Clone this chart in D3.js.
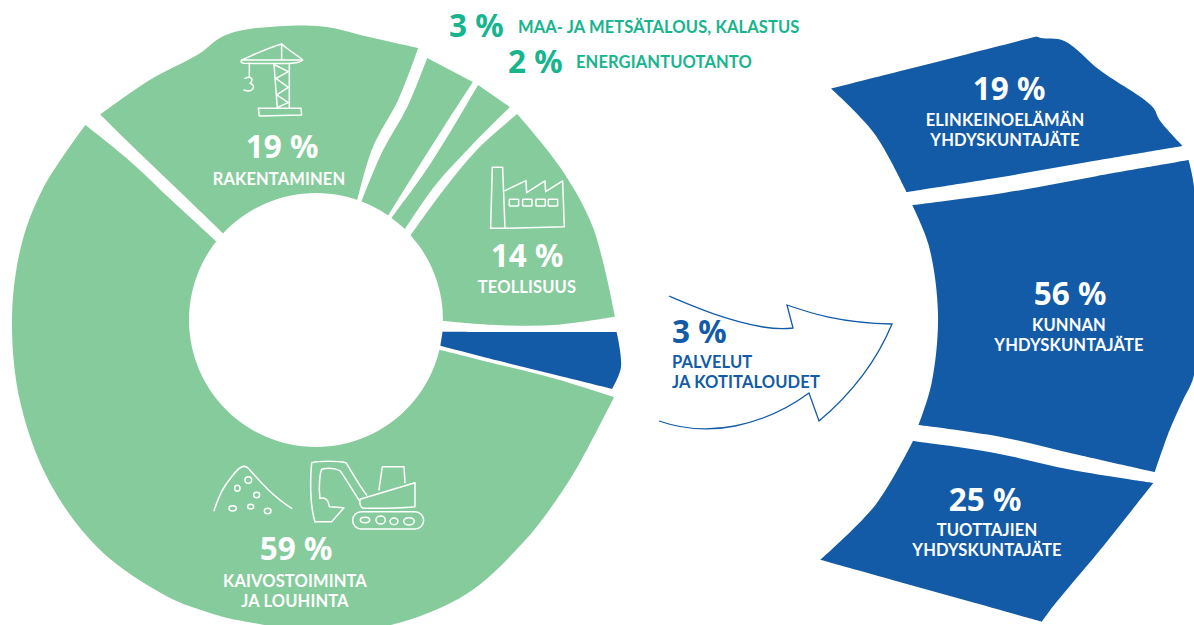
<!DOCTYPE html>
<html>
<head>
<meta charset="utf-8">
<script src="https://cdn.jsdelivr.net/npm/d3@7"></script>
<style>
  html, body { margin: 0; background: #fff; }
  svg { display: block; font-family: "Noto Sans", sans-serif; }
  .pct { font-weight: 700; font-size: 31.5px; }
  .name { font-family: Lato, "Noto Sans", sans-serif; font-weight: 700; font-size: 16.5px; letter-spacing: .12px; }
  .sketch { fill: none; stroke: #fff; stroke-width: 4.5; stroke-linejoin: round; stroke-linecap: round; }
</style>
</head>
<body>
<script>
// left ring: clockwise from the top left gap
const sources = ["RAKENTAMINEN", "MAA- JA METSÄTALOUS, KALASTUS", "ENERGIANTUOTANTO", "TEOLLISUUS", "PALVELUT JA KOTITALOUDET", "KAIVOSTOIMINTA JA LOUHINTA"]
const sourceShares = [19, 3, 2, 14, 3, 59]

// right band: top to bottom
const producers = ["ELINKEINOELÄMÄN YHDYSKUNTAJÄTE", "KUNNAN YHDYSKUNTAJÄTE", "TUOTTAJIEN YHDYSKUNTAJÄTE"]
const producerShares = [19, 56, 25]

const ringAngles = [0, 3.3, 10.2, 20.6, 23, 33.4, 34.6, 42.3, 44.3, 57.9, 71.4, 89.4, 92.5, 98.8, 103.1, 104.5, 118, 125, 137, 152.6, 173, 194.2, 201.8, 208.3, 223.2, 238.5, 254.3, 270, 283.9, 295.5, 310.2, 313.6, 325.3, 336.5, 341.2, 345.9, 356.9, 360]
const ringRadii = [294, 292.5, 288, 290.5, 284.5, 285, 285.4, 288, 288, 288, 292, 299, 301, 308.6, 304, 308, 300, 300, 304, 313, 314, 310, 312, 314, 315.5, 312, 307, 304, 304, 303, 302, 298, 292, 291, 298, 299, 295, 294]

// how far each slice edge strays from its pie angle, inner rim to outer rim (degrees)
const ringStartDrift = [[0, .3, .4, .6], [-.4, .1, 1.8, 1.6], [4.3, 4.2, 3.3, 2.4], [8.7, 5.1, 4, 4.9], [5.5, 3.9, 3, 2.5], [2.9, 3.1, 3.2, 3.9]]
const ringEndDrift = [[-2.4, -3.2, -.9, -.8], [2.4, 1.6, 1.3, 1.2], [5, 2.1, 2.3, 2.9], [.6, 1.8, 1.3, -.4], [1.1, 2, 2.3, 2.5], [-4.8, -3.4, -2.5, -2.8]]

const bandAngles = [-14.2, -11, -7.4, -4, 0, 4, 7.5, 11.5, 15.6]
const bandInnerRadii = [919, 951, 973, 991, 998, 994, 981, 955, 914]
const bandOuterAngles = [-14.3, -14.07, -13.65, -11.88, -9.7, -9.03, -7.7, -7.03, -6.2, -3, 0, 2.9, 3.96, 5.4, 7.4, 8, 11.3, 14.7, 15.6]
const bandOuterRadii = [1128, 1135, 1157, 1185, 1230, 1235, 1254, 1258, 1260, 1262, 1262, 1255, 1246, 1235, 1225, 1225, 1186, 1151, 1144]
const bandStartDrift = [[0, 0, 0, 0], [2.15, 2.04, 1.74, 1.51], [-.71, -.65, -.3, -.22]]
const bandEndDrift = [[1.35, 1.19, .99, .84], [-1.68, -1.55, -1.1, -.73], [0, 0, 0, 0]]

const green = "#86cb9c", blue = "#135ba6", teal = "#17b48e"
const rad = d => d * Math.PI / 180
const deg = r => r * 180 / Math.PI
const norm = a => ((a % 360) + 360) % 360

const svg = d3.select("body").append("svg").attr("width", 1194).attr("height", 625)

const radial = d3.lineRadial().angle(d => rad(d[0])).radius(d => d[1]).curve(d3.curveCatmullRom.alpha(.5))
const rims = [0, 1 / 3, 2 / 3, 1]

// rim between two angles, going through the readings only so it stays smooth
function rimPoints(from, to, knots, scale, margin) {
  let lo = Math.min(from, to), hi = Math.max(from, to)
  let inside = knots.filter(a => a > lo + margin && a < hi - margin)
  if (from > to) inside.reverse()
  return inside.map(a => [a, scale(a)])
}

function sliceOutline(d, i, inner, outer, innerKnots, outerKnots, startDrift, endDrift, margin) {
  let a0 = deg(d.startAngle), a1 = deg(d.endAngle)
  let edge = (a, f) => [a, inner(a) + f * (outer(a) - inner(a))]
  let startEdge = rims.map((f, k) => edge(a0 + startDrift[i][k], f))
  let endEdge = rims.map((f, k) => edge(a1 + endDrift[i][k], f))
  let outerRim = [startEdge[3]].concat(rimPoints(startEdge[3][0], endEdge[3][0], outerKnots, outer, margin), [endEdge[3]])
  let innerRim = [endEdge[0]].concat(rimPoints(endEdge[0][0], startEdge[0][0], innerKnots, inner, margin), [startEdge[0]])
  let parts = [startEdge, outerRim, endEdge.slice().reverse(), innerRim]
  return parts.map((p, k) => k ? radial(p).replace(/^M/, "L") : radial(p)).join("") + "Z"
}

// left ring
let ringOuter = d3.scaleLinear().domain(ringAngles).range(ringRadii)
let ringPie = d3.pie().sort(null).startAngle(rad(313)).endAngle(rad(673))
let ringKnots = ringAngles.slice(0, -1).concat(ringAngles.map(a => a + 360))
let holeKnots = d3.range(0, 720, 6)

svg.append("g")
  .attr("transform", "translate(316, 320)")
  .selectAll("path")
  .data(ringPie(sourceShares))
  .enter()
  .append("path")
  .attr("d", (d, i) => sliceOutline(d, i, () => 127, a => ringOuter(norm(a)), holeKnots, ringKnots, ringStartDrift, ringEndDrift, .5))
  .attr("fill", (d, i) => sources[i].startsWith("PALVELUT") ? blue : green)

// right band, a slice of a much bigger ring that has a bite out of it
let bandInner = d3.scaleLinear().domain(bandAngles.map(a => a + 90)).range(bandInnerRadii)
let bandOuter = d3.scaleLinear().domain(bandOuterAngles.map(a => a + 90)).range(bandOuterRadii)
let bandPie = d3.pie().sort(null).startAngle(rad(75.8)).endAngle(rad(105.6))

svg.append("g")
  .attr("transform", "translate(-60, 314)")
  .selectAll("path")
  .data(bandPie(producerShares))
  .enter()
  .append("path")
  .attr("d", (d, i) => sliceOutline(d, i, bandInner, bandOuter, bandInner.domain(), bandOuter.domain(), bandStartDrift, bandEndDrift, .1))
  .attr("fill", blue)

// arrow
svg.append("path")
  .attr("d", "M669,296 C695,307 725,320 763,327 C775,329 785,329 793,328 L787,305 C810,313 840,323 892,324 C875,365 850,395 819,421 L809,393 C790,407 765,420 735,426 C710,431 685,430 659,421")
  .attr("fill", "none")
  .attr("stroke", blue)
  .attr("stroke-width", 1.3)

// texts
function label(x, y, share, lines, color, anchor, nameX, nameY) {
  let g = svg.append("g").attr("fill", color).attr("text-anchor", anchor)
  g.append("text").attr("class", "pct").attr("x", x).attr("y", y).text(share + " %")
  let name = g.append("text").attr("class", "name")
  lines.forEach((line, i) => {
    name.append("tspan").attr("x", nameX).attr("y", nameY + i * 20).text(line)
  })
}

label(282, 158, sourceShares[0], ["RAKENTAMINEN"], "#fff", "middle", 279, 185)
label(449, 37, sourceShares[1], ["MAA- JA METSÄTALOUS, KALASTUS"], teal, "start", 518, 33)
label(508, 73, sourceShares[2], ["ENERGIANTUOTANTO"], teal, "start", 576, 68)
label(527, 267, sourceShares[3], ["TEOLLISUUS"], "#fff", "middle", 527, 293)
label(672, 343, sourceShares[4], ["PALVELUT", "JA KOTITALOUDET"], blue, "start", 672, 368)
label(296, 560, sourceShares[5], ["KAIVOSTOIMINTA", "JA LOUHINTA"], "#fff", "middle", 295, 587)

label(1009, 100, producerShares[0], ["ELINKEINOELÄMÄN", "YHDYSKUNTAJÄTE"], "#fff", "middle", 1005, 126)
label(1070, 305, producerShares[1], ["KUNNAN", "YHDYSKUNTAJÄTE"], "#fff", "middle", 1069, 331)
label(985, 511, producerShares[2], ["TUOTTAJIEN", "YHDYSKUNTAJÄTE"], "#fff", "middle", 987, 536)

// sketched icons
let upperIcons = svg.append("g").attr("class", "sketch").attr("transform", "translate(200, 0) scale(0.3333)")
let crane = [
  "M125,180 C160,165 200,145 245,132 C265,150 290,165 308,180 C300,190 290,192 130,190 C122,188 122,183 125,180 L300,180",
  "M245,132 L245,180",
  "M222,192 L232,325 M268,192 L268,325",
  "M225,195 L265,215 L228,235 L265,262 L230,285 L265,308 L232,322",
  "M148,190 L148,232 M135,235 C150,228 165,235 150,250 C170,255 160,280 132,270",
  "M175,325 L303,325 L305,345 L178,348 Z"
]
let factory = [
  "M877,502 L908,502 L915,685 L872,685 Z",
  "M915,572 L978,542 L980,578 L1035,543 L1037,575 L1088,543 L1093,680 L915,685"
]
crane.concat(factory).forEach(p => upperIcons.append("path").attr("d", p))
let windows = [928, 968, 1008, 1045]
windows.forEach(x => upperIcons.append("rect").attr("x", x).attr("y", 598).attr("width", 28).attr("height", 20).attr("rx", 2))

let lowerIcons = svg.append("g").attr("class", "sketch").attr("transform", "translate(200, 440) scale(0.3333)")
let digger = [
  "M42,212 C60,160 70,140 95,110 C115,85 130,70 145,85 C180,125 220,170 275,205",
  "M345,245 C330,200 330,120 335,68 C360,62 410,62 438,68 C455,95 480,140 500,165",
  "M360,175 C355,140 360,100 365,88 C385,82 405,85 420,92 C440,120 460,155 478,182",
  "M360,175 C375,172 385,178 388,200 L432,203 L395,245 L345,245",
  "M480,178 L645,128 L645,200 C600,205 520,205 490,205 C480,200 478,190 480,178 Z",
  "M537,150 L547,80 L612,80 L615,128"
]
digger.forEach(p => lowerIcons.append("path").attr("d", p))
lowerIcons.append("rect").attr("x", 458).attr("y", 215).attr("width", 213).attr("height", 52).attr("rx", 26)
let stones = [[145, 120, 10, 10], [112, 145, 8, 9], [170, 165, 9, 8], [98, 205, 11, 8], [152, 200, 9, 7], [203, 213, 10, 8],
  [495, 240, 14, 8], [542, 240, 14, 12], [582, 244, 12, 10], [627, 244, 16, 11]]
stones.forEach(s => lowerIcons.append("ellipse").attr("cx", s[0]).attr("cy", s[1]).attr("rx", s[2]).attr("ry", s[3]))
</script>
</body>
</html>
